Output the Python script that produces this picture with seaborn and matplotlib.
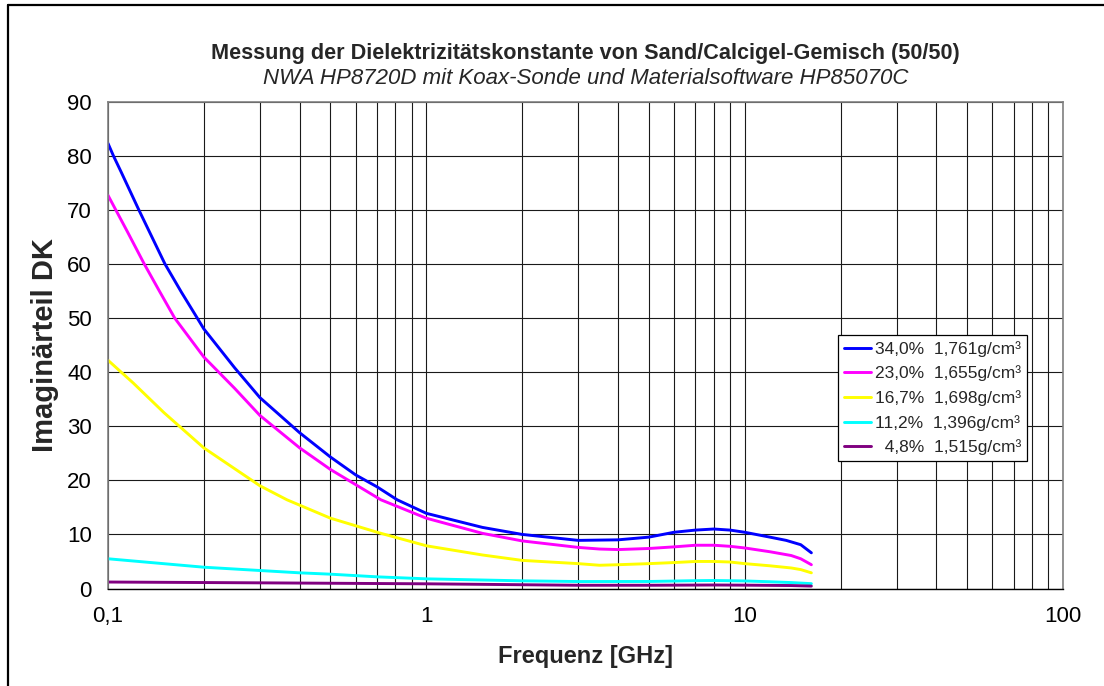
import matplotlib
matplotlib.use("Agg")
import matplotlib.pyplot as plt
from matplotlib.lines import Line2D
from matplotlib.ticker import LogLocator, FixedLocator, NullFormatter
import numpy as np
import pandas as pd
import seaborn as sns

# Imaginary part of the permittivity for five moisture levels (frequency in GHz)
freq_34 = [0.1, 0.104, 0.11, 0.125, 0.14, 0.151, 0.17, 0.188, 0.2, 0.25, 0.3, 0.4, 0.5, 0.6,
           0.7, 0.81, 1.0, 1.5, 2.0, 3.0, 4.0, 5.0, 6.0, 7.0, 8.0, 9.0, 10.0, 12.0, 13.5,
           15.0, 16.2]
eps_34 = [82.3, 80.0, 77.0, 70.0, 64.0, 60.0, 54.8, 50.6, 48.0, 40.8, 35.3, 28.8, 24.3, 21.0,
          18.8, 16.4, 13.9, 11.3, 10.0, 8.9, 9.0, 9.5, 10.4, 10.8, 11.0, 10.8, 10.4, 9.5, 8.9,
          8.1, 6.6]

freq_23 = [0.1, 0.115, 0.13, 0.145, 0.162, 0.2, 0.25, 0.3, 0.4, 0.5, 0.6, 0.72, 1.0, 1.5,
           2.0, 3.0, 3.5, 4.0, 5.0, 6.0, 7.0, 8.0, 9.0, 10.0, 12.0, 14.0, 15.0, 16.2]
eps_23 = [72.7, 66.0, 60.0, 55.0, 50.0, 42.8, 37.0, 32.0, 26.0, 22.0, 19.2, 16.4, 13.0, 10.2,
          8.8, 7.6, 7.3, 7.2, 7.4, 7.7, 8.0, 8.0, 7.8, 7.5, 6.8, 6.1, 5.5, 4.4]

freq_167 = [0.1, 0.12, 0.15, 0.2, 0.3, 0.365, 0.5, 0.71, 1.0, 1.5, 2.0, 3.0, 3.5, 4.0, 5.0,
            6.0, 7.0, 8.0, 9.0, 10.0, 12.0, 14.0, 15.0, 16.2]
eps_167 = [42.2, 38.0, 32.5, 26.0, 19.0, 16.4, 13.0, 10.3, 7.9, 6.2, 5.2, 4.6, 4.3, 4.4, 4.6,
           4.8, 5.0, 5.0, 4.9, 4.6, 4.2, 3.8, 3.5, 2.9]

freq_112 = [0.1, 0.2, 0.3, 0.4, 0.5, 0.7, 1.0, 2.0, 3.0, 5.0, 7.0, 8.0, 10.0, 12.0, 14.0, 16.2]
eps_112 = [5.5, 3.94, 3.33, 2.9, 2.65, 2.16, 1.79, 1.42, 1.29, 1.3, 1.45, 1.48, 1.4, 1.25, 1.1, 0.9]

freq_48 = [0.1, 0.3, 1.0, 2.0, 3.0, 5.0, 8.0, 10.0, 14.0, 16.2]
eps_48 = [1.2, 1.05, 0.87, 0.7, 0.6, 0.6, 0.65, 0.62, 0.55, 0.45]

series_labels = ["34,0%  1,761g/cm³", "23,0%  1,655g/cm³", "16,7%  1,698g/cm³",
                 "11,2%  1,396g/cm³", "  4,8%  1,515g/cm³"]
series_colors = ["#0000FF", "#FF00FF", "#FFFF00", "#00FFFF", "#800080"]
series_freqs = [freq_34, freq_23, freq_167, freq_112, freq_48]
series_eps = [eps_34, eps_23, eps_167, eps_112, eps_48]

y_ticks = [0, 10, 20, 30, 40, 50, 60, 70, 80, 90]
x_ticks = [0.1, 1, 10, 100]
x_tick_labels = ["0,1", "1", "10", "100"]

df = pd.concat(
    [pd.DataFrame({"Frequenz": f, "Eps": e, "Probe": lab})
     for f, e, lab in zip(series_freqs, series_eps, series_labels)],
    ignore_index=True,
)

sns.set_theme(style="white")
plt.rcParams["font.family"] = ["Liberation Sans", "DejaVu Sans"]

fig = plt.figure(figsize=(11.04, 6.86), dpi=100)
ax = fig.add_axes([0.0978, 0.1421, 0.8651, 0.7097])

sns.lineplot(data=df, x="Frequenz", y="Eps", hue="Probe", hue_order=series_labels,
             palette=series_colors, sort=False, estimator=None, linewidth=2.1,
             legend=False, ax=ax)

ax.set_xscale("log")
ax.set_xlim(0.1, 100)
ax.set_ylim(0, 90)

# grid: every decade subdivision and every 10 units
ax.xaxis.set_major_locator(FixedLocator(x_ticks))
ax.xaxis.set_minor_locator(LogLocator(base=10, subs=np.arange(2, 10)))
ax.xaxis.set_minor_formatter(NullFormatter())
ax.set_xticklabels(x_tick_labels)
ax.yaxis.set_major_locator(FixedLocator(y_ticks))
ax.grid(True, which="both", axis="x", color="#1a1a1a", linewidth=0.8)
ax.grid(True, which="major", axis="y", color="#1a1a1a", linewidth=0.8)
ax.set_axisbelow(True)

ax.tick_params(axis="both", which="major", labelsize=16, colors="black",
               length=5, width=0.8, direction="out", pad=6.5)
ax.tick_params(axis="x", which="major", pad=7.5)
ax.tick_params(axis="x", which="minor", length=0)

for side in ["top", "left", "right"]:
    ax.spines[side].set_color("#808080")
    ax.spines[side].set_linewidth(1.2)
ax.spines["bottom"].set_color("black")
ax.spines["bottom"].set_linewidth(1.0)

ax.set_xlabel("Frequenz [GHz]", fontsize=17, fontweight="bold")
ax.set_ylabel("Imaginärteil DK", fontsize=21, fontweight="bold")
ax.xaxis.set_label_coords(0.5, (588.5 - 656) / 486.8)
ax.xaxis.label.set_va("center")
ax.yaxis.set_label_coords((45 - 108) / 955, 0.5)
ax.yaxis.label.set_va("center")

fig.text(0.5304, 1 - 53 / 686, "Messung der Dielektrizitätskonstante von Sand/Calcigel-Gemisch (50/50)",
         ha="center", va="center", fontsize=15.6, fontweight="bold")
fig.text(0.5304, 1 - 78 / 686, "NWA HP8720D mit Koax-Sonde und Materialsoftware HP85070C",
         ha="center", va="center", fontsize=16, style="italic")

handles = [Line2D([], [], color=c, linewidth=2.1) for c in series_colors]
leg = ax.legend(handles, series_labels, loc="upper left", bbox_to_anchor=(0.764, 0.521),
                fontsize=12.5, frameon=True, fancybox=False, framealpha=1, edgecolor="black",
                handlelength=1.6, handletextpad=0.2, borderpad=0.35, labelspacing=0.5,
                borderaxespad=0)
leg.get_frame().set_linewidth(0.9)

# outer chart frame (top and left edges)
fig.add_artist(Line2D([8 / 1104, 1.0], [1 - 5 / 686, 1 - 5 / 686], color="black",
                      linewidth=1.6, transform=fig.transFigure))
fig.add_artist(Line2D([8 / 1104, 8 / 1104], [0.0, 1 - 5 / 686], color="black",
                      linewidth=1.6, transform=fig.transFigure))

fig.savefig("out.png", dpi=100)
